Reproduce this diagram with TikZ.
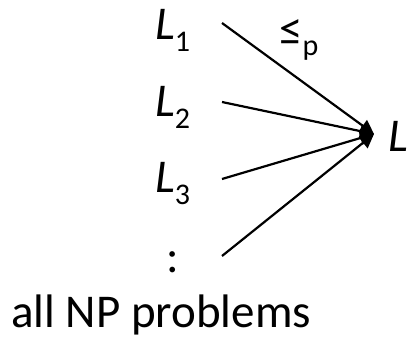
\documentclass[tikz,border=0pt]{standalone}
\usepackage{fontspec}
\setmainfont{Carlito}
\usetikzlibrary{arrows.meta}
\newcommand{\bigfont}{\fontsize{47}{56}\selectfont}
\newcommand{\subfont}{\fontsize{30}{36}\selectfont}
\begin{document}
\begin{tikzpicture}[
  x=1pt, y=-1pt,
  every node/.style={font=\bigfont, inner sep=0pt, anchor=base west},
  reduce/.style={line width=2.2pt, -{Triangle[length=14pt,width=14pt]}},
]
\useasboundingbox (0,0) rectangle (409,339);

% Languages on the left
\foreach \i/\y in {1/40, 2/117, 3/193} {
  \node (l\i) at (155,\y) {\textit{L}\raisebox{-12pt}{\subfont\i}};
}
\node (ldots) at (166,272) {:};

% Target language
\node (ltarget) at (388,152) {\textit{L}};
\coordinate (tip) at (374,134);

% Start points of the reductions
\coordinate (s1) at (222,23);
\coordinate (s2) at (222,102);
\coordinate (s3) at (222,179);
\coordinate (s4) at (222,256);

\foreach \s in {s1,s2,s3,s4} {
  \draw[reduce] (\s) -- (tip);
}

% Reduction label
\node (redlabel) at (279,46) {≤\raisebox{-10pt}{\subfont p}};

% Caption
\node (nplabel) at (11,327) {all NP problems};
\end{tikzpicture}
\end{document}
